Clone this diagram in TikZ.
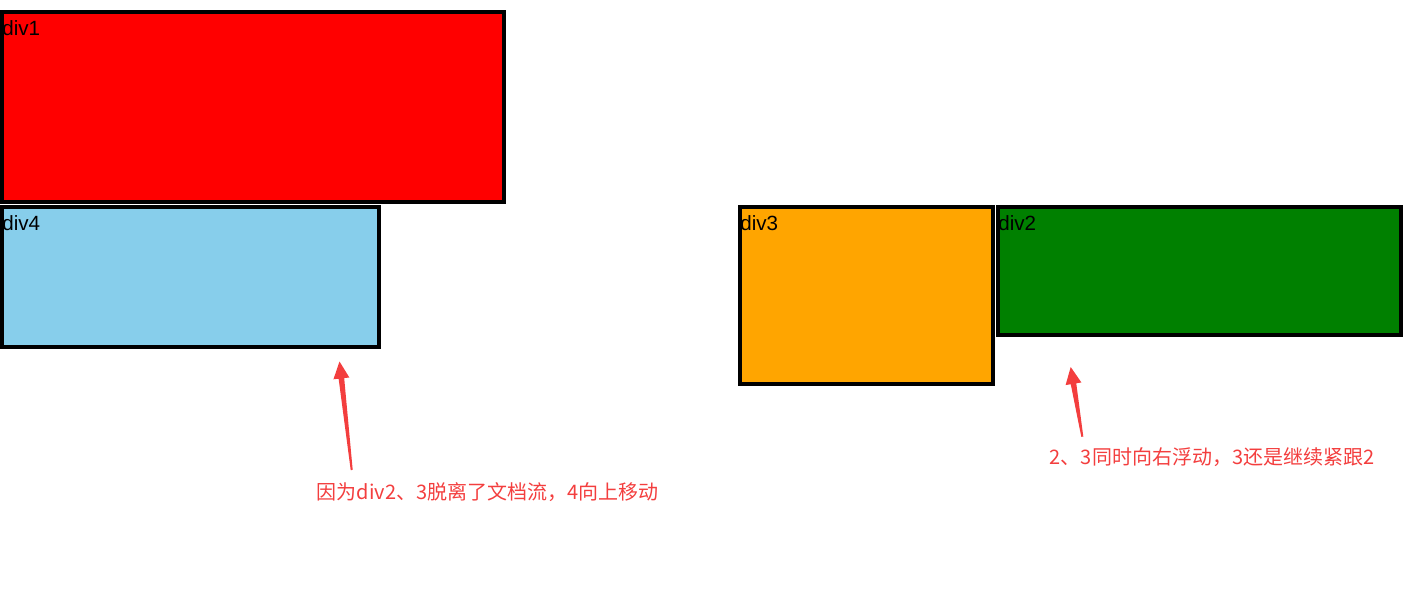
\documentclass[tikz,border=0pt]{standalone}
\usepackage{fontspec}
\setmainfont{Liberation Sans}
\newfontfamily\cjk{Noto Sans CJK SC}
\usepackage{tikz}
\usetikzlibrary{positioning,calc}

\definecolor{divred}{RGB}{255,0,0}
\definecolor{divblue}{RGB}{135,206,235}
\definecolor{divorange}{RGB}{255,165,0}
\definecolor{divgreen}{RGB}{0,128,0}
\definecolor{annot}{RGB}{243,62,62}

% tapered red arrow from #1 (tail) to #2 (tip)
\newcommand{\redarrow}[2]{%
  \fill[annot] ($(#1)!0.5pt!90:(#2)$) -- ($($(#2)!8.5pt!(#1)$)!1.4pt!-90:(#1)$)
    -- ($($(#2)!8.5pt!(#1)$)!4pt!-90:(#1)$) -- (#2)
    -- ($($(#2)!8.5pt!(#1)$)!4pt!90:(#1)$) -- ($($(#2)!8.5pt!(#1)$)!1.4pt!90:(#1)$)
    -- ($(#1)!0.5pt!-90:(#2)$) -- cycle;}

\begin{document}
\begin{tikzpicture}[
    x=0.5pt, y=-0.5pt,
    box/.style={rectangle, draw=black, line width=2pt, inner sep=0pt},
    tag/.style={anchor=base west, inner sep=0pt, font=\fontsize{10.3pt}{12pt}\selectfont},
    note/.style={inner sep=0pt, text=annot, font=\cjk\fontsize{10pt}{12pt}\selectfont}
]
    \useasboundingbox (0,0) rectangle (1407,589);

    % floated boxes
    \node[box, fill=divred, minimum width=251pt, minimum height=95pt] (d1) at (253,107) {};
    \node[box, fill=divblue, minimum width=188.5pt, minimum height=70pt] (d4) at (190.5,277) {};
    \node[box, fill=divorange, minimum width=126.5pt, minimum height=88.5pt] (d3) at (866.5,295.5) {};
    \node[box, fill=divgreen, minimum width=201.5pt, minimum height=64pt] (d2) at (1199.5,271) {};

    \node[tag] (t1) at ($(d1.north west)+(2,25)$) {div1};
    \node[tag] (t4) at ($(d4.north west)+(2,25)$) {div4};
    \node[tag] (t3) at ($(d3.north west)+(2,25)$) {div3};
    \node[tag] (t2) at ($(d2.north west)+(2,25)$) {div2};

    % notes
    \node[note] (n1) at (487.5,492) {因为div2、3脱离了文档流，4向上移动};
    \node[note] (n2) at (1212,457) {2、3同时向右浮动，3还是继续紧跟2};

    \coordinate (a1) at (351.7,470);
    \coordinate (h1) at (339.5,361.5);
    \coordinate (a2) at (1082.3,436.7);
    \coordinate (h2) at (1070.7,367);
    \redarrow{a1}{h1}
    \redarrow{a2}{h2}
\end{tikzpicture}
\end{document}
